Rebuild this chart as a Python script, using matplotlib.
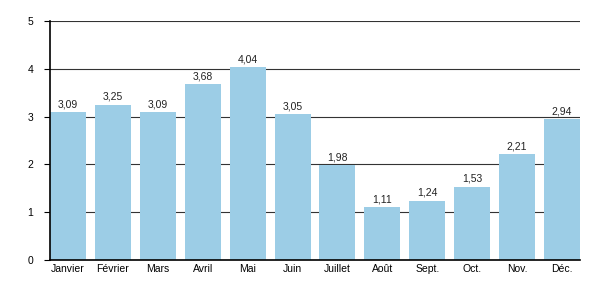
import matplotlib
matplotlib.use("Agg")
import matplotlib.pyplot as plt

plt.rcParams['font.family'] = ['Liberation Sans', 'DejaVu Sans']

mois = ["Janvier", "Février", "Mars", "Avril", "Mai", "Juin",
        "Juillet", "Août", "Sept.", "Oct.", "Nov.", "Déc."]
valeurs = [3.09, 3.25, 3.09, 3.68, 4.04, 3.05, 1.98, 1.11, 1.24, 1.53, 2.21, 2.94]

fig = plt.figure(figsize=(6, 3), dpi=100)
ax = fig.add_axes([50/600, 40/300, 530/600, 239/300])

x = range(len(mois))
bars = ax.bar(x, valeurs, width=0.8, color='#9ccde6', zorder=2)
for xi, v in zip(x, valeurs):
    ax.text(xi, v + 0.06, f"{v:.2f}".replace('.', ','), ha='center', va='bottom',
            fontsize=7.5, color='#222222', zorder=3)

ax.set_xlim(-0.4, len(mois) - 0.6)
ax.set_ylim(0, 5)
ax.set_yticks(range(6))
ax.yaxis.grid(True, color='#333333', linewidth=0.8, zorder=1)
ax.set_xticks(list(x))
ax.set_xticklabels(mois)
ax.tick_params(axis='x', length=0, labelsize=7.5, pad=3)
ax.tick_params(axis='y', length=4, width=0.8, labelsize=7.5, pad=8)
for s in ['top', 'right']:
    ax.spines[s].set_visible(False)
ax.spines['left'].set_linewidth(1.2)
ax.spines['bottom'].set_linewidth(1.2)

fig.savefig("out.png", dpi=100)
